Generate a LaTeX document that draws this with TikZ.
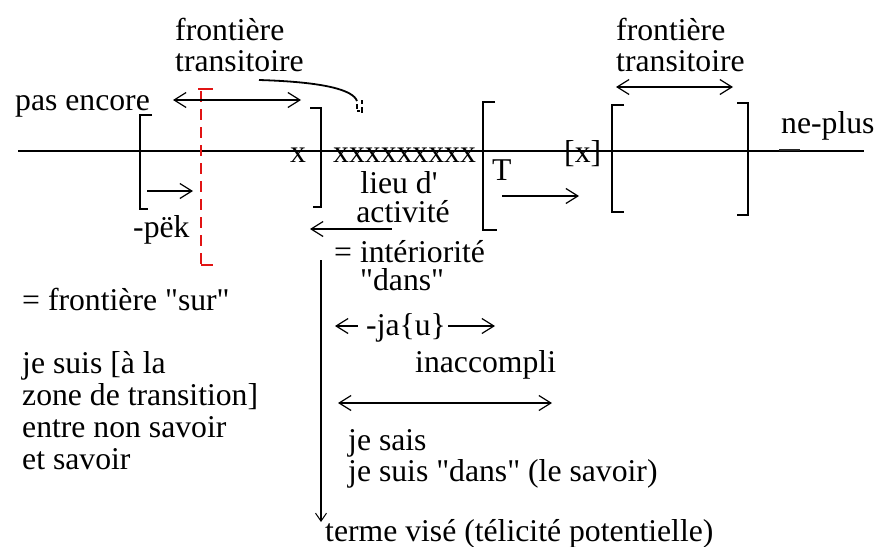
\documentclass[tikz,border=0pt]{standalone}
\usepackage{fontspec}
\setmainfont{Liberation Serif}[Ligatures=TeXOff]
\usetikzlibrary{arrows.meta}
\newcommand{\lbl}{\fontsize{31.7}{32}\selectfont}
\tikzset{
  txt/.style={anchor=base west, inner sep=0pt, font=\lbl},
  axis/.style={line width=1.8pt},
  brk/.style={line width=2.4pt},
  arr/.style={line width=1.8pt, -{Straight Barb[length=12pt,width=15pt,line width=1.2pt]}},
  darr/.style={line width=1.8pt, {Straight Barb[length=12pt,width=15pt,line width=1.2pt]}-{Straight Barb[length=12pt,width=15pt,line width=1.2pt]}},
  rarr/.style={line width=1.8pt, {Straight Barb[length=12pt,width=15pt,line width=1.2pt]}-},
  redline/.style={draw={rgb,255:red,225;green,20;blue,20}, line width=2.4pt},
}
\begin{document}
\begin{tikzpicture}[x=1pt,y=-1pt]
\useasboundingbox (0,0) rectangle (875,546);

% time axis
\coordinate (axL) at (18,151);
\coordinate (axR) at (864,151);
\draw[axis] (axL) -- (axR);
\coordinate (np1) at (779,150);
\coordinate (np2) at (800,150);
\draw[line width=2.8pt, black!85] (np1) -- (np2);

% brackets on the axis
\draw[brk] (152,115) -- (140,115) -- (140,209) -- (148,209);
\draw[brk] (310,108) -- (321,108) -- (321,207) -- (313,207);
\draw[brk] (495,102) -- (483,102) -- (483,230) -- (497,230);
\draw[brk] (624,105) -- (612,105) -- (612,212) -- (624,212);
\draw[brk] (737,103) -- (748,103) -- (748,215) -- (737,215);

% transitory boundary (red)
\draw[redline, dash pattern=on 11pt off 7pt] (201,91) -- (201,265);
\draw[redline] (198,89) -- (213,89);
\draw[redline] (201,265) -- (213,265);

% top labels
\node[txt] (ft1) at (175,40) {frontière};
\node[txt] (tr1) at (175,71) {transitoire};
\node[txt] (ft2) at (616,40) {frontière};
\node[txt] (tr2) at (616,71) {transitoire};
\node[txt] (pas) at (15,110) {pas encore};
\node[txt] (ne) at (781,133) {ne-plus};

% double arrows of the transitory boundaries
\coordinate (d1a) at (173,100);
\coordinate (d1b) at (301,100);
\draw[darr] (d1a) -- (d1b);
\coordinate (d2a) at (616,87);
\coordinate (d2b) at (733,87);
\draw[darr] (d2a) -- (d2b);

% pointer curve
\coordinate (c1) at (259,80);
\coordinate (c2) at (357,101);
\draw[line width=1.8pt] (c1) .. controls (325,82) and (353,90) .. (c2);
\draw[line width=1.4pt] (357,104) -- (357,109) (357,111) -- (360,111)
  (362,100) -- (362,104) (362,107) -- (362,113);

% axis texts
\node[txt] (xa) at (290,162) {x};
\node[txt] (xs) at (333,162) {xxxxxxxxx};
\node[txt] (tt) at (492,180) {T};
\node[txt] (xb) at (564,162) {[x]};
\node[anchor=base, inner sep=0pt, font=\lbl] (lieu) at (399,193) {lieu d'};
\node[anchor=base, inner sep=0pt, font=\lbl] (act) at (403,222) {activité};
\node[txt] (pek) at (133,237) {-pëk};

% small arrows around the axis
\coordinate (p1) at (147,191);
\coordinate (p2) at (193,191);
\draw[arr] (p1) -- (p2);
\coordinate (t1) at (502,196);
\coordinate (t2) at (579,196);
\draw[arr] (t1) -- (t2);
\coordinate (a1) at (310,229);
\coordinate (a2) at (392,229);
\draw[rarr] (a1) -- (a2);

% interiority column
\coordinate (v1) at (321,260);
\coordinate (v2) at (321,522);
\draw[line width=1.8pt, -{Straight Barb[length=8pt,width=11pt,line width=1pt]}] (v1) -- (v2);
\node[txt] (int) at (334,262) {= intériorité};
\node[txt] (dans) at (360,290) {"dans"};
\coordinate (j1) at (335,326);
\coordinate (j2) at (358,326);
\draw[rarr] (j1) -- (j2);
\node[txt] (ja) at (366,335) {-ja\{u\}};
\coordinate (j3) at (448,326);
\coordinate (j4) at (495,326);
\draw[arr] (j3) -- (j4);
\node[txt] (inac) at (415,372) {inaccompli};
\coordinate (s1) at (338,403);
\coordinate (s2) at (552,403);
\draw[darr] (s1) -- (s2);
\node[txt] (sais) at (348,450) {je sais};
\node[txt] (suis) at (348,481) {je suis "dans" (le savoir)};
\node[txt] (terme) at (325,541) {terme visé (télicité potentielle)};

% left column
\node[txt] (sur) at (22,310) {= frontière "sur"};
\node[txt] (l1) at (22,373) {je suis [à la};
\node[txt] (l2) at (22,405) {zone de transition]};
\node[txt] (l3) at (22,437) {entre non savoir};
\node[txt] (l4) at (22,469) {et savoir};
\end{tikzpicture}
\end{document}
